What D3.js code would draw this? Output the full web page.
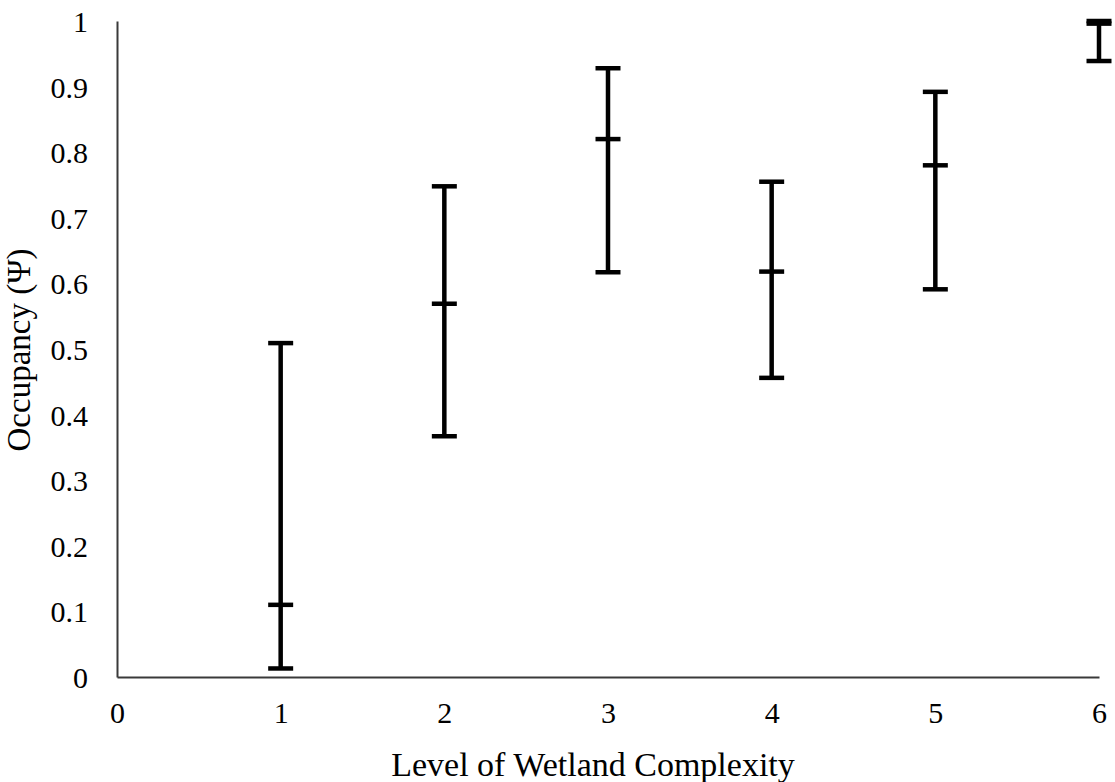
<!DOCTYPE html>
<html>
<head>
<meta charset="utf-8">
<script src="https://cdn.jsdelivr.net/npm/d3@7"></script>
<style>
body { margin: 0; background: #fff; }
text { font-family: "Liberation Serif", "Times New Roman", serif; fill: #000; }
</style>
</head>
<body>
<div class="graphic"></div>
<script>
var width = 1115;
var height = 782;

// data
var levels = [1, 2, 3, 4, 5, 6];
var occupancy = [0.110, 0.569, 0.820, 0.618, 0.780, 0.996];
var lower = [0.013, 0.367, 0.617, 0.456, 0.591, 0.939];
var upper = [0.509, 0.748, 0.928, 0.755, 0.892, 1.0];
var xTicks = [0, 1, 2, 3, 4, 5, 6];
var yTicks = [0, 0.1, 0.2, 0.3, 0.4, 0.5, 0.6, 0.7, 0.8, 0.9, 1];

var svg = d3.select("div.graphic").append("svg")
	.attr("width", width)
	.attr("height", height);

var x = d3.scaleLinear().domain([0, 6]).range([117, 1099]);
var y = d3.scaleLinear().domain([0, 1]).range([677, 21]);

// axes, no tick marks
var xAxis = svg.append("g")
	.attr("transform", "translate(0," + y(0) + ")")
	.call(d3.axisBottom(x).tickValues(xTicks).tickSize(0).tickPadding(25).tickFormat(d3.format("d")));
var yAxis = svg.append("g")
	.attr("transform", "translate(" + x(0) + ",0)")
	.call(d3.axisLeft(y).tickValues(yTicks).tickSize(0).tickPadding(29).tickFormat(function(d){ return d === 0 || d === 1 ? d : d3.format(".1f")(d); }));

[xAxis, yAxis].forEach(function(g){
	g.select(".domain").attr("stroke", "#3a3a3a").attr("stroke-width", 2);
	g.selectAll("text")
		.style("font-family", "'Liberation Serif', 'Times New Roman', serif")
		.style("font-size", "30px")
		.attr("fill", "#000");
});
xAxis.selectAll("text").attr("dy", "0.71em");
yAxis.selectAll("text").attr("dy", "0.35em");

// error bars
var rows = levels.map(function(l, i){
	return {level: l, mean: occupancy[i], lo: lower[i], hi: upper[i]};
});
var capHalf = 12.5;
var bars = svg.append("g");
bars.selectAll("line.stem")
	.data(rows)
	.enter()
	.append("line")
	.attr("class", "stem")
	.attr("x1", function(d){ return x(d.level); })
	.attr("x2", function(d){ return x(d.level); })
	.attr("y1", function(d){ return y(d.lo); })
	.attr("y2", function(d){ return y(d.hi); })
	.attr("stroke", "#000")
	.attr("stroke-width", 4.5);

["lo", "hi", "mean"].forEach(function(k){
	bars.selectAll("line.cap-" + k)
		.data(rows)
		.enter()
		.append("line")
		.attr("class", "cap-" + k)
		.attr("x1", function(d){ return x(d.level) - capHalf; })
		.attr("x2", function(d){ return x(d.level) + capHalf; })
		.attr("y1", function(d){ return y(d[k]); })
		.attr("y2", function(d){ return y(d[k]); })
		.attr("stroke", "#000")
		.attr("stroke-width", 4.5);
});

// axis titles
svg.append("text")
	.attr("x", 593)
	.attr("y", 768)
	.attr("text-anchor", "middle")
	.attr("dominant-baseline", "middle")
	.style("font-size", "34px")
	.text("Level of Wetland Complexity");

svg.append("text")
	.attr("transform", "translate(22," + 350 + ") rotate(-90)")
	.attr("text-anchor", "middle")
	.attr("dominant-baseline", "middle")
	.style("font-size", "33px")
	.text("Occupancy (Ψ)");
</script>
</body>
</html>
